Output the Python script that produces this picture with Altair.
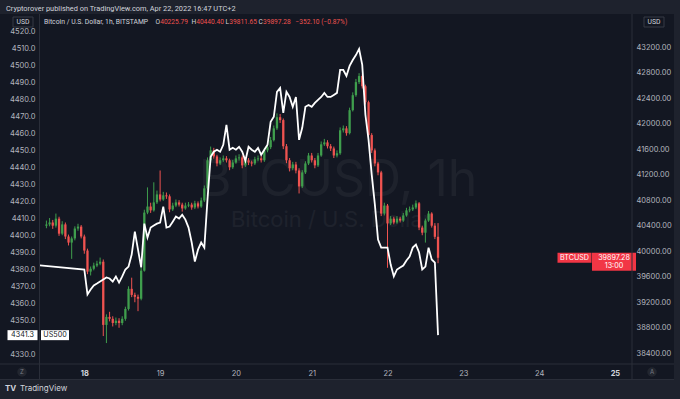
import altair as alt
import pandas as pd
import numpy as np

FONT = "Inter"
LFONT = "Roboto"

# ---------------- BTC / USD hourly candles (start 2022-04-17 12:00, UTC+2) ----------------
BTC_START = "2022-04-17 12:00"
btc_open = [40400, 40420, 40450, 40400, 40510, 40275, 40420, 40230, 40135, 40200,
            40355, 40385, 40230, 40010, 39680, 39725, 39775, 39805, 39835, 38845,
            38970, 38940, 38875, 38910, 38875, 38940, 39095, 39410, 39315, 39285,
            39255, 39695, 40605, 40700, 40640, 40765, 40890, 40810, 40875, 40860,
            40655, 40715, 40765, 40730, 40670, 40715, 40730, 40685, 40750, 40700,
            40795, 40985, 41425, 41580, 41485, 41375, 41425, 41455, 41425, 41315,
            41390, 41455, 41470, 41345, 41425, 41390, 41375, 41440, 41455, 41425,
            41580, 41630, 41740, 41925, 42100, 42055, 41645, 41425, 41300, 41360,
            41265, 41015, 41235, 41375, 41500, 41425, 41345, 41500, 41675, 41705,
            41645, 41610, 41500, 41535, 41895, 41925, 41850, 42210, 42445, 42650,
            42745, 42585, 42335, 41820, 41580, 41375, 41235, 40590, 40715, 40435,
            40510, 40450, 40510, 40480, 40560, 40640, 40655, 40685, 40750, 40370,
            40290, 40480, 40590, 40400, 40225.79]
btc_high = [40480, 40520, 40490, 40590, 40540, 40470, 40450, 40260, 40230, 40390,
            40430, 40410, 40260, 40040, 39760, 39820, 39850, 39900, 39870, 39010,
            39050, 38980, 38960, 38950, 38980, 39130, 39450, 39585, 39350, 39320,
            39740, 40650, 41000, 40760, 41080, 40950, 41265, 40930, 40920, 40890,
            40760, 40810, 40800, 40760, 40760, 40770, 40760, 40790, 40780, 40840,
            41030, 41470, 41640, 41620, 41510, 41470, 41500, 41490, 41450, 41430,
            41500, 41520, 41500, 41470, 41460, 41420, 41480, 41500, 41490, 41620,
            41680, 41790, 41970, 42160, 42150, 42080, 41680, 41460, 41400, 41400,
            41300, 41270, 41410, 41540, 41540, 41460, 41540, 41720, 41760, 41740,
            41680, 41640, 41580, 41940, 41970, 41960, 42250, 42490, 42700, 42790,
            42770, 42610, 42360, 41850, 41610, 41400, 41260, 40760, 40740, 40550,
            40540, 40550, 40540, 40600, 40680, 40700, 40730, 40795, 40770, 40400,
            40510, 40630, 40610, 40440, 40440.40]
btc_low = [40360, 40390, 40350, 40370, 40240, 40250, 40190, 40090, 39880, 40170,
           40320, 40200, 39960, 39640, 39620, 39700, 39750, 39780, 38670, 38560,
           38900, 38820, 38840, 38800, 38840, 38910, 39070, 39280, 39200, 39060,
           39230, 39680, 40580, 40600, 40620, 40740, 40780, 40790, 40820, 40610,
           40630, 40690, 40700, 40620, 40650, 40690, 40650, 40660, 40670, 40680,
           40770, 40960, 41400, 41450, 41330, 41350, 41400, 41390, 41270, 41290,
           41370, 41420, 41300, 41320, 41350, 41330, 41350, 41410, 41390, 41400,
           41550, 41600, 41720, 41900, 42010, 41600, 41380, 41250, 41270, 41220,
           40905, 40990, 41210, 41350, 41390, 41300, 41320, 41480, 41650, 41610,
           41570, 41460, 41470, 41510, 41860, 41810, 41830, 42190, 42420, 42620,
           42550, 42300, 41780, 41540, 41330, 41190, 40550, 40560, 39740, 40410,
           40420, 40430, 40450, 40460, 40540, 40610, 40630, 40660, 40330, 40250,
           40135, 40460, 40370, 40190, 39811.65]
btc_close = [40420, 40450, 40400, 40510, 40275, 40420, 40230, 40135, 40200, 40355,
             40385, 40230, 40010, 39680, 39725, 39775, 39805, 39835, 38845, 38970,
             38940, 38875, 38910, 38875, 38940, 39095, 39410, 39315, 39285, 39255,
             39695, 40605, 40700, 40640, 40765, 40890, 40810, 40875, 40860, 40655,
             40715, 40765, 40730, 40670, 40715, 40730, 40685, 40750, 40700, 40795,
             40985, 41425, 41580, 41485, 41375, 41425, 41455, 41425, 41315, 41390,
             41455, 41470, 41345, 41425, 41390, 41375, 41440, 41455, 41425, 41580,
             41630, 41740, 41925, 42100, 42055, 41645, 41425, 41300, 41360, 41265,
             41015, 41235, 41375, 41500, 41425, 41345, 41500, 41675, 41705, 41645,
             41610, 41500, 41535, 41895, 41925, 41850, 42210, 42445, 42650, 42745,
             42585, 42335, 41820, 41580, 41375, 41235, 40590, 40715, 40435, 40510,
             40450, 40510, 40480, 40560, 40640, 40655, 40685, 40750, 40370, 40290,
             40480, 40590, 40400, 40225.79, 39897.28]

# ---------------- US500 hourly line (start 2022-04-18 00:00), plus prior close ----------------
SPX_PREV_TIME = "2022-04-14T22:00:00"
SPX_PREV_VALUE = 4392.6
SPX_START = "2022-04-18 00:00"
spx_values = [4380.0, 4365.3, 4368.2, 4370.6, 4371.7, 4372.9, 4374.1, 4375.3, 4374.7, 4372.9,
              4375.9, 4372.3, 4375.9, 4380.0, 4381.7, 4388.8, 4402.3, 4391.7, 4381.2, 4407.0,
              4398.8, 4404.7, 4405.9, 4407.0, 4407.6, 4417.0, 4404.7, 4405.3, 4408.2, 4411.2,
              4410.0, 4412.3, 4409.4, 4404.7, 4395.9, 4384.7, 4391.7, 4395.9, 4392.9, 4421.2,
              4446.4, 4449.4, 4450.6, 4449.4, 4453.5, 4465.3, 4450.6, 4451.7, 4450.6, 4452.3,
              4449.4, 4444.1, 4452.3, 4450.6, 4449.4, 4451.7, 4447.6, 4450.6, 4453.5, 4467.0,
              4470.0, 4484.7, 4487.0, 4472.3, 4484.7, 4481.7, 4475.9, 4481.7, 4456.4, 4463.5,
              4475.9, 4477.0, 4475.9, 4478.2, 4480.0, 4481.7, 4484.1, 4481.7, 4481.7, 4482.9,
              4484.1, 4497.6, 4497.6, 4494.1, 4500.0, 4503.5, 4506.4, 4510.0, 4500.6, 4471.2,
              4456.4, 4435.9, 4418.2, 4397.6, 4392.9, 4392.9, 4392.9, 4382.9, 4375.9, 4380.0,
              4381.2, 4382.3, 4385.3, 4387.6, 4392.9, 4394.7, 4390.0, 4380.0, 4381.7, 4392.9,
              4385.9, 4384.1, 4341.3]

# 4340.0 sits under the 4341.3 last-value tag in the reference, so it is not listed
left_ticks = [4330, 4350, 4360, 4370, 4380, 4390, 4400, 4410, 4420, 4430, 4440,
              4450, 4460, 4470, 4480, 4490, 4500, 4510, 4520]
right_ticks = [38400, 38800, 39200, 39600, 40000, 40400, 40800, 41200, 41600, 42000,
               42400, 42800, 43200]
day_ticks = [18, 19, 20, 21, 22, 23, 24, 25]

BTC_LAST = 39897.28
SPX_LAST = 4341.3

# ---------------- tables ----------------
btc = pd.DataFrame({
    "t": pd.date_range(BTC_START, periods=len(btc_close), freq="h").strftime("%Y-%m-%dT%H:%M:%S"),
    "o": btc_open, "h": btc_high, "l": btc_low, "c": btc_close,
})
btc["dir"] = np.where(btc["c"] >= btc["o"], "up", "down")

spx = pd.DataFrame({
    "t": [SPX_PREV_TIME] + list(pd.date_range(SPX_START, periods=len(spx_values), freq="h").strftime("%Y-%m-%dT%H:%M:%S")),
    "v": [SPX_PREV_VALUE] + spx_values,
})

# ---------------- styles ----------------
BG = "#131722"
PANEL = "#1e222d"
BORDER = "#2a2e39"
LABEL = "#b2b5be"
TEXT = "#d1d4dc"
UP = "#3f9e4d"
DOWN = "#ef5350"
PL, PT = 40, 15  # plot origin in page pixels
W, H = 592, 349

x_scale = alt.Scale(domain=[alt.DateTime(year=2022, month=4, date=17, hours=11, minutes=33),
                            alt.DateTime(year=2022, month=4, date=25, hours=3, minutes=50)])
x_axis = alt.Axis(values=[alt.DateTime(year=2022, month=4, date=d) for d in day_ticks],
                  labelExpr="'' + date(datum.value)", title=None, grid=False, domain=False,
                  ticks=False, labelPadding=5, labelFontSize=7.5, labelFont=FONT,
                  labelColor={"condition": {"test": "date(datum.value) == 18 || date(datum.value) == 25", "value": TEXT}, "value": LABEL},
                  labelFontWeight={"condition": {"test": "date(datum.value) == 18 || date(datum.value) == 25", "value": "bold"}, "value": "normal"})


def X():
    return alt.X("t:T", scale=x_scale, axis=x_axis)


btc_scale = alt.Scale(domain=[38232, 43702], nice=False, zero=False)
spx_scale = alt.Scale(domain=[4324.3, 4530.0], nice=False, zero=False)

right_axis = alt.Axis(orient="right", values=right_ticks, format=".2f", title=None, grid=False,
                      domain=False, ticks=False, labelPadding=4, labelFontSize=7.5, labelFont=FONT,
                      labelColor=LABEL, labelOverlap=False, labelAlign="left")
left_axis = alt.Axis(orient="left", values=left_ticks, format=".1f", title=None, grid=False,
                     domain=False, ticks=False, labelPadding=5, labelFontSize=7.5, labelFont=FONT,
                     labelColor=LABEL, labelOverlap=False, labelAlign="right")

one = pd.DataFrame({"d": [0]})


def txt(text, x, y, color=TEXT, size=7.2, align="left", weight="normal", opacity=1.0, font=FONT):
    return alt.Chart(one).mark_text(text=text, align=align, baseline="middle", color=color,
                                    fontSize=size, fontWeight=weight, font=font, opacity=opacity).encode(
        x=alt.value(x - PL), y=alt.value(y - PT))


def rect(x1, x2, y1, y2, fill, stroke=None):
    kw = dict(color=fill, opacity=1)
    if stroke:
        kw.update(stroke=stroke, strokeWidth=1)
    return alt.Chart(one).mark_rect(**kw).encode(
        x=alt.value(x1 - PL), x2=alt.value(x2 - PL), y=alt.value(y1 - PT), y2=alt.value(y2 - PT))


def hline(y, x1, x2):
    return alt.Chart(one).mark_rule(color=BORDER, strokeWidth=1).encode(
        x=alt.value(x1 - PL), x2=alt.value(x2 - PL), y=alt.value(y - PT))


def vline(x, y1, y2):
    return alt.Chart(one).mark_rule(color=BORDER, strokeWidth=1).encode(
        x=alt.value(x - PL), y=alt.value(y1 - PT), y2=alt.value(y2 - PT))


# watermark
wm1 = txt("BTCUSD, 1h", 338, 181, color=TEXT, size=50, align="center", opacity=0.055)
wm2 = txt("Bitcoin / U.S. Dollar", 331, 220, color=TEXT, size=22, align="center", opacity=0.055)

wicks = alt.Chart(btc).mark_rule(strokeWidth=1).encode(
    x=X(),
    y=alt.Y("l:Q", scale=btc_scale, axis=None),
    y2="h:Q",
    color=alt.Color("dir:N", scale=alt.Scale(domain=["up", "down"], range=[UP, DOWN]), legend=None),
)
bodies = alt.Chart(btc).mark_bar(size=2.3).encode(
    x=X(),
    y=alt.Y("o:Q", scale=btc_scale, axis=right_axis),
    y2="c:Q",
    color=alt.Color("dir:N", scale=alt.Scale(domain=["up", "down"], range=[UP, DOWN]), legend=None),
)
line = alt.Chart(spx).mark_line(color="#ffffff", strokeWidth=1.8, clip=True).encode(
    x=X(),
    y=alt.Y("v:Q", scale=spx_scale, axis=left_axis),
)

# last-value labels
spx_last = pd.DataFrame({"v": [SPX_LAST]})
btc_last = pd.DataFrame({"v": [BTC_LAST]})


def box(df, scale, cx, path, fill):
    return alt.Chart(df).mark_point(shape=path, size=4, filled=True, opacity=1, color=fill, strokeWidth=0).encode(
        x=alt.value(cx - PL), y=alt.Y("v:Q", scale=scale, axis=None))


def vtext(df, scale, cx, text, color, dy=0, align="center", size=7.2):
    return alt.Chart(df).mark_text(text=text, color=color, fontSize=size, font=FONT, dy=dy,
                                   align=align, baseline="middle").encode(
        x=alt.value(cx - PL), y=alt.Y("v:Q", scale=scale, axis=None))


spx_box1 = box(spx_last, spx_scale, 22.5, "M-15,-5H15V5H-15Z", "#ffffff")
spx_txt1 = vtext(spx_last, spx_scale, 22.5, "4341.3", BG)
spx_box2 = box(spx_last, spx_scale, 55, "M-14,-5H14V5H-14Z", "#ffffff")
spx_txt2 = vtext(spx_last, spx_scale, 55, "US500", BG)

btc_box1 = box(btc_last, btc_scale, 614, "M-22,-5H22V13H-22Z", "#f23645")
btc_txt1 = vtext(btc_last, btc_scale, 614, "39897.28", "#ffffff")
btc_txt2 = vtext(btc_last, btc_scale, 614, "13:00", "#ffffff", dy=8.5)
btc_box2 = box(btc_last, btc_scale, 614.5 - 40, "M-17,-5H17V5H-17Z", "#f23645")
btc_txt3 = vtext(btc_last, btc_scale, 614.5 - 40, "BTCUSD", "#ffffff")

# frame pieces
frame = [
    rect(0, 680, 0, 14, PANEL),
    rect(0, 680, 380, 399, PANEL),
    rect(674, 680, 0, 399, PANEL),
    vline(39.5, 14, 380),
    vline(632, 14, 380),
    hline(364, 0, 674),
    hline(379.5, 0, 674),
    rect(13, 33, 17, 27, BG, stroke="#363a45"),
    rect(644, 664, 17, 27, BG, stroke="#363a45"),
]

LS = 6.6
texts = [
    txt("Cryptorover published on TradingView.com, Apr 22, 2022 16:47 UTC+2", 6, 8.5, color=TEXT, size=7.4, font=LFONT),
    txt("USD", 23, 22, color=TEXT, size=6.8, align="center", font=LFONT),
    txt("USD", 654, 22, color=TEXT, size=6.8, align="center", font=LFONT),
    txt("Bitcoin / U.S. Dollar, 1h, BITSTAMP", 44, 21.5, color=TEXT, size=6.8, font=LFONT),
    txt("O", 155.5, 21.5, color=TEXT, size=LS, font=LFONT),
    txt("40225.79", 160.2, 21.5, color=DOWN, size=LS, font=LFONT),
    txt("H", 191.5, 21.5, color=TEXT, size=LS, font=LFONT),
    txt("40440.40", 196.2, 21.5, color=DOWN, size=LS, font=LFONT),
    txt("L", 225.5, 21.5, color=TEXT, size=LS, font=LFONT),
    txt("39811.65", 229.3, 21.5, color=DOWN, size=LS, font=LFONT),
    txt("C", 258.5, 21.5, color=TEXT, size=LS, font=LFONT),
    txt("39897.28", 263, 21.5, color=DOWN, size=LS, font=LFONT),
    txt("\u2212352.10 (\u22120.87%)", 295.5, 21.5, color=DOWN, size=LS, font=LFONT),
    txt("TV", 5, 389, color=TEXT, size=8, weight="bold"),
    txt("TradingView", 20, 389, color=TEXT, size=8),
    txt("Z", 22, 372, color="#787b86", size=6, align="center"),
    txt("A", 652, 372, color="#787b86", size=6, align="center"),
]

buttons = [
    alt.Chart(one).mark_point(shape="circle", size=90, filled=True, color="#22262f", opacity=1).encode(
        x=alt.value(22 - PL), y=alt.value(372 - PT)),
    alt.Chart(one).mark_point(shape="circle", size=90, filled=True, color="#22262f", opacity=1).encode(
        x=alt.value(652 - PL), y=alt.value(372 - PT)),
]

chart = alt.layer(
    wm1, wm2, wicks, bodies, line,
    spx_box1, spx_txt1, spx_box2, spx_txt2,
    btc_box2, btc_txt3, btc_box1, btc_txt1, btc_txt2,
    *frame, *buttons, *texts,
).resolve_scale(y="independent").properties(
    width=W, height=H,
    padding={"left": PL, "top": PT, "right": 680 - PL - W, "bottom": 399 - PT - H},
    autosize=alt.AutoSizeParams(type="none"),
    background=BG,
).configure_view(stroke=None, fill=BG)

chart.save("out.html", embed_options={"renderer": "svg", "actions": False})
